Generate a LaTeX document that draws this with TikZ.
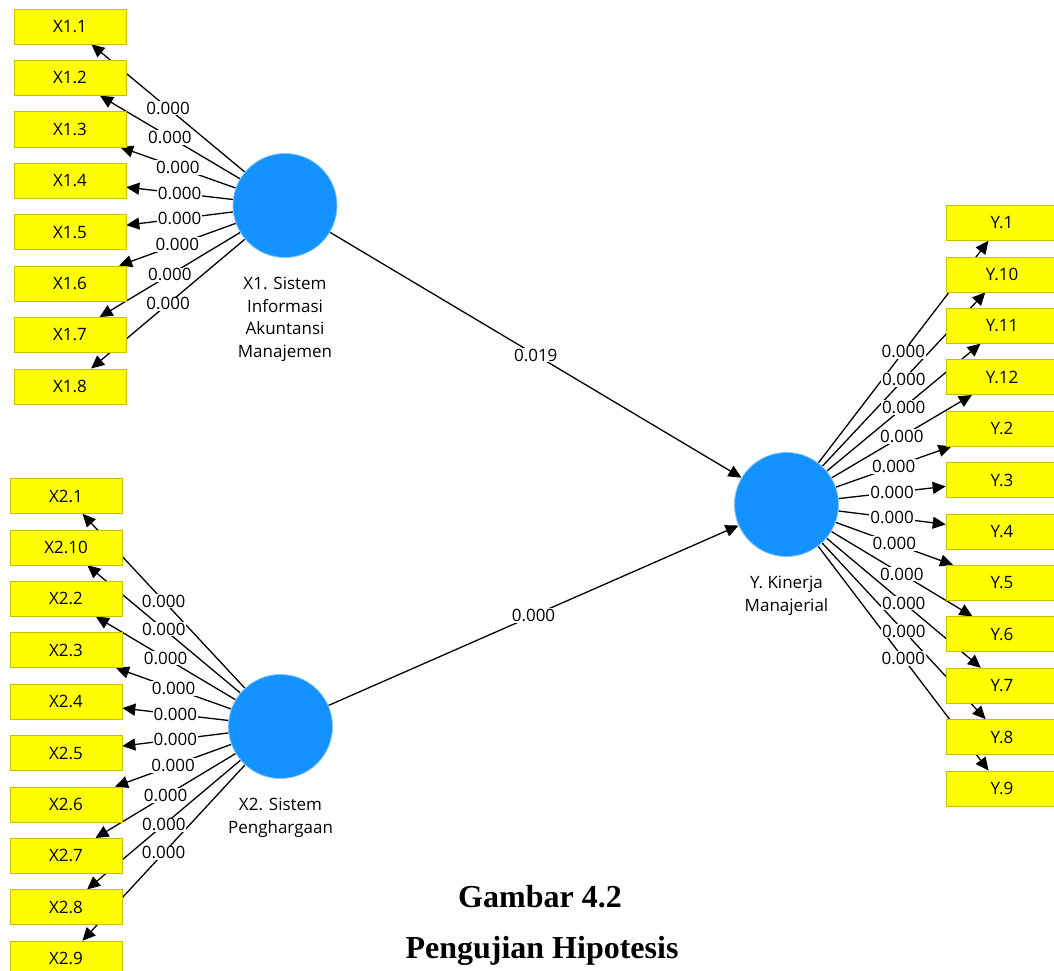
\documentclass[tikz,border=0pt]{standalone}
\usepackage{fontspec}
\setmainfont{Open Sans}
\newfontfamily\capfont{Liberation Serif}
\usetikzlibrary{positioning, arrows.meta, backgrounds}

\definecolor{lvblue}{RGB}{20,146,255}
\definecolor{indyellow}{RGB}{255,255,0}
\definecolor{indedge}{RGB}{200,192,0}

\tikzset{
  latent/.style={circle, fill=lvblue, draw=lvblue!55!white, line width=0.8pt,
    minimum size=104pt, inner sep=0pt},
  indic/.style={rectangle, fill=indyellow, draw=indedge, line width=0.6pt,
    minimum width=112pt, minimum height=35pt, inner sep=0pt,
    font=\fontsize{17}{20}\selectfont},
  lvname/.style={align=center, inner sep=0pt, font=\fontsize{17}{22.5}\selectfont},
  load/.style={-{Triangle[length=13pt, width=12pt]}, line width=1.3pt},
  pval/.style={fill=white, inner sep=1pt, font=\fontsize{17}{20}\selectfont},
  figcap/.style={font=\capfont\bfseries\fontsize{32}{38}\selectfont},
}

\begin{document}
\begin{tikzpicture}[x=1pt, y=-1pt]
\useasboundingbox (0,0) rectangle (1054,971);

% Latent variables
\node[latent] (lvx1) at (285,205.5) {};
\node[latent] (lvx2) at (280.5,726.5) {};
\node[latent] (lvy) at (786.5,504.5) {};

\node[lvname, below=19pt of lvx1] (txx1) {X1. Sistem\\Informasi\\Akuntansi\\Manajemen};
\node[lvname, below=19pt of lvx2] (txx2) {X2. Sistem\\Penghargaan};
\node[lvname, below=19pt of lvy] (txy) {Y. Kinerja\\Manajerial};

% Indicators
\foreach \t [count=\i] in {1.1,1.2,1.3,1.4,1.5,1.6,1.7,1.8} {
  \node[indic] (xa\i) at (70,{26.5+51.4*(\i-1)}) {X\t};
}
\foreach \t [count=\i] in {2.1,2.10,2.2,2.3,2.4,2.5,2.6,2.7,2.8,2.9} {
  \node[indic] (xb\i) at (66,{496+51.4*(\i-1)}) {X\t};
}
\foreach \t [count=\i] in {1,10,11,12,2,3,4,5,6,7,8,9} {
  \node[indic] (yi\i) at (1002,{223+51.4*(\i-1)}) {Y.\t};
}

% Outer loadings
\foreach \i in {1,...,8} {
  \begin{pgfonlayer}{background}
    \draw[load] (lvx1) -- (xa\i);
  \end{pgfonlayer}
  \path (lvx1) -- (xa\i) node[pval, midway] {0.000};
}
\foreach \i in {1,...,10} {
  \begin{pgfonlayer}{background}
    \draw[load] (lvx2) -- (xb\i);
  \end{pgfonlayer}
  \path (lvx2) -- (xb\i) node[pval, midway] {0.000};
}
\foreach \i in {1,...,12} {
  \begin{pgfonlayer}{background}
    \draw[load] (lvy) -- (yi\i);
  \end{pgfonlayer}
  \path (lvy) -- (yi\i) node[pval, midway] {0.000};
}

% Path coefficients
\begin{pgfonlayer}{background}
  \draw[load] (lvx1) -- (lvy);
  \draw[load] (lvx2) -- (lvy);
\end{pgfonlayer}
\path (lvx1) -- (lvy) node[pval, midway] {0.019};
\path (lvx2) -- (lvy) node[pval, midway] {0.000};

% Caption
\node[figcap] (cap1) at (540,897) {Gambar 4.2};
\node[figcap] (cap2) at (542,951) {Pengujian Hipotesis};

\end{tikzpicture}
\end{document}
